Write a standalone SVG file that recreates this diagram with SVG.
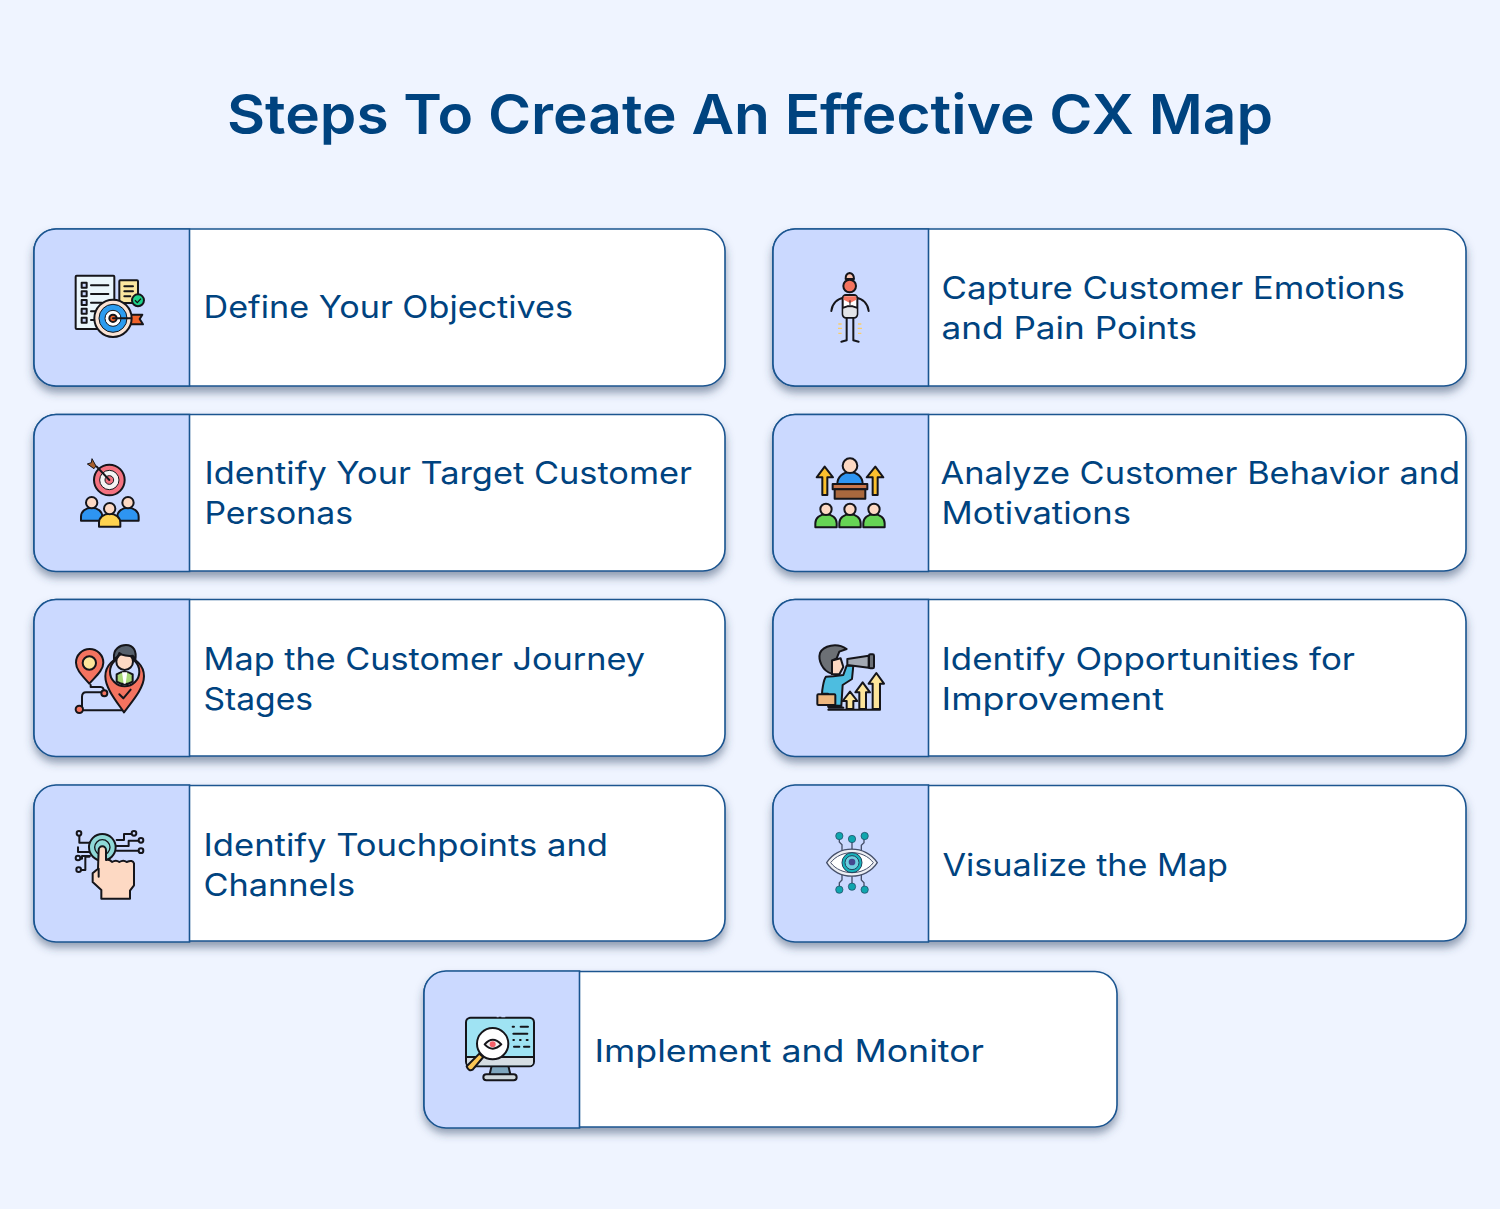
<svg xmlns="http://www.w3.org/2000/svg" width="1500" height="1209" viewBox="0 0 1500 1209">
<style>
.card{fill:#fff;stroke:#1a5590;stroke-width:1.6;filter:url(#sh)}
.panel{fill:#cbd9ff;stroke:#1a5590;stroke-width:1.6}
.t{font-family:"Inter","Liberation Sans",sans-serif;font-size:31px;font-weight:400;fill:#00437f}
.h{font-family:"Inter","Liberation Sans",sans-serif;font-size:55px;font-weight:600;fill:#00437f}
.k{stroke:#15151a;stroke-width:6;stroke-linecap:round;stroke-linejoin:round}
.n{fill:none}
.s{fill:#fdd9c3}
</style>
<defs>
<filter id="sh" x="-5%" y="-10%" width="110%" height="125%"><feDropShadow dx="0" dy="6" stdDeviation="4" flood-color="#334466" flood-opacity=".5"/></filter>
<path id="cardPanel" d="M155.5 0H22A22 22 0 0 0 0 22V135A22 22 0 0 0 22 157H155.5Z"/>
<g id="pers"><path class="k" d="M-32 36V24C-32 8-18 -3 0 -3S32 8 32 24V36Z"/><circle class="k s" cx="0" cy="-18" r="17"/></g>
</defs>
<rect width="1500" height="1209" fill="#eff4ff"/>
<text class="h" x="227" y="134" textLength="1046" lengthAdjust="spacingAndGlyphs">Steps To Create An Effective CX Map</text>

<g id="node-objectives">
<rect class="card" x="34" y="229" width="691" height="157" rx="22"/><use href="#cardPanel" class="panel" x="34" y="229"/>
<text class="t" x="203.5" y="318" textLength="369.5" lengthAdjust="spacingAndGlyphs">Define Your Objectives</text>
<g transform="translate(25 220) scale(.3333)">
<rect class="k" x="152" y="167" width="116" height="160" rx="3" fill="#eaf6fc"/>
<g fill="#cbd9ff"><rect class="k" x="170" y="188" width="15" height="15"/><rect class="k" x="170" y="214" width="15" height="15"/><rect class="k" x="170" y="240" width="15" height="15"/><rect class="k" x="170" y="266" width="15" height="15"/><rect class="k" x="170" y="293" width="15" height="15"/></g>
<path class="k n" d="M198 196H250M198 222H250M198 248H230M198 274H210M198 300H210"/>
<rect class="k" x="283" y="181" width="56" height="68" rx="3" fill="#fbe6a0"/>
<path class="k n" d="M298 199H324M298 214H324M298 229H316"/>
<circle class="k" cx="339" cy="241" r="18" fill="#1dd28a"/>
<path d="M330 241l7 7 11-12" fill="none" stroke="#111" stroke-width="4"/>
<path class="k" d="M314 284H352L344 297 354 313H316Z" fill="#f0622a"/>
<circle class="k" cx="264" cy="295" r="56" fill="#fbe3d4"/>
<circle cx="264" cy="295" r="42" fill="#2c9cf0" stroke="#15151a" stroke-width="3"/>
<circle cx="264" cy="295" r="24" fill="#fff" stroke="#15151a" stroke-width="3"/>
<circle class="k" cx="264" cy="295" r="11" fill="#f0622a"/>
<path class="k n" d="M264 295H318"/>
</g></g>

<g id="node-personas">
<rect class="card" x="34" y="414.5" width="691" height="156.500" rx="22"/><use href="#cardPanel" class="panel" x="34" y="414.5"/>
<text class="t" x="204.5" y="484" textLength="487.5" lengthAdjust="spacingAndGlyphs">Identify Your Target Customer</text>
<text class="t" x="204.5" y="524" textLength="148.500" lengthAdjust="spacingAndGlyphs">Personas</text>
<g transform="translate(60 450) scale(.3333)">
<circle class="k" cx="148" cy="90" r="46" fill="#f47280"/>
<circle cx="148" cy="90" r="29" fill="#f4f4f4" stroke="#15151a" stroke-width="3"/>
<circle cx="148" cy="90" r="13" fill="#f47280" stroke="#15151a" stroke-width="3"/>
<path class="k n" d="M148 90L110 50"/>
<path d="M108 48L96 26 94 38 82 42 102 56Z" fill="#a65f2c" stroke="#15151a" stroke-width="3"/>
<g transform="translate(95 176)" fill="#2e95f2"><use href="#pers"/></g>
<g transform="translate(204 176)" fill="#2e95f2"><use href="#pers"/></g>
<g transform="translate(149 194)" fill="#fed350"><use href="#pers"/></g>
</g></g>

<g id="node-journey">
<rect class="card" x="34" y="599.5" width="691" height="156.500" rx="22"/><use href="#cardPanel" class="panel" x="34" y="599.5"/>
<text class="t" x="203.5" y="670" textLength="441.5" lengthAdjust="spacingAndGlyphs">Map the Customer Journey</text>
<text class="t" x="203.5" y="710" textLength="109.5" lengthAdjust="spacingAndGlyphs">Stages</text>
<g transform="translate(60 635) scale(.3333)">
<path class="k n" d="M92 150V156H122Q132 156 132 172H78Q66 172 66 186V218M70 226H192"/>
<path class="k" d="M88 146C70 125 48 106 48 83A41 41 0 0 1 130 83C130 106 106 125 88 146Z" fill="#f4735f"/>
<circle class="k" cx="88" cy="84" r="20" fill="#fde59a"/>
<circle class="k" cx="133" cy="175" r="9" fill="#f4735f"/>
<circle class="k" cx="58" cy="223" r="11" fill="#f4735f"/>
<path class="k" d="M192 232C170 200 136 160 136 124A58 58 0 0 1 252 124C252 160 216 200 192 232Z" fill="#f4735f"/>
<circle class="k" cx="194" cy="110" r="44" fill="#cbd9ff"/>
<path class="k" d="M170 140V118Q194 102 218 118V140Q194 156 170 140Z" fill="#a8d878"/>
<path d="M186 112H202L197 146H191Z" fill="#fff"/>
<circle class="k s" cx="194" cy="80" r="25"/>
<path class="k" d="M162 72C158 40 182 30 198 30 222 30 230 50 226 74L218 62C206 64 186 62 178 54 176 62 170 68 162 72Z" fill="#56606b"/>
<path class="k n" d="M178 178L190 190 212 164"/>
</g></g>

<g id="node-touchpoints">
<rect class="card" x="34" y="785.5" width="691" height="155.500" rx="22"/><use href="#cardPanel" class="panel" x="34" y="785"/>
<text class="t" x="203.5" y="856" textLength="404.5" lengthAdjust="spacingAndGlyphs">Identify Touchpoints and</text>
<text class="t" x="203.5" y="896" textLength="151.500" lengthAdjust="spacingAndGlyphs">Channels</text>
<g transform="translate(60 820) scale(.3333)">
<path class="k n" d="M58 46V68H92M54 82V96H90M50 116H66V108H90M56 150H76V110H88M170 60H192V42H214M170 78H206V62H236M170 92H236"/>
<g fill="#cbd9ff"><circle class="k" cx="57" cy="40" r="7"/><circle class="k" cx="54" cy="114" r="7"/><circle class="k" cx="56" cy="149" r="7"/><circle class="k" cx="222" cy="40" r="7"/><circle class="k" cx="243" cy="61" r="7"/><circle class="k" cx="243" cy="92" r="7"/></g>
<circle class="k" cx="127" cy="82" r="40" fill="#8fd8d6"/>
<circle cx="127" cy="82" r="23" fill="#8fd8d6" stroke="#15151a" stroke-width="4"/>
<path class="k s" d="M116 90A11 11 0 0 1 138 90V120Q148 116 156 126 168 118 178 126 190 118 200 126 218 118 222 130V196L210 212V236H124V210L98 186V160L114 146Z"/>
<path class="k n" d="M116 146V170"/>
</g></g>

<g id="node-monitor">
<rect class="card" x="424" y="971.5" width="693" height="155.500" rx="22"/><use href="#cardPanel" class="panel" x="424" y="971"/>
<text class="t" x="594.5" y="1062" textLength="389.5" lengthAdjust="spacingAndGlyphs">Implement and Monitor</text>
<g transform="translate(450 1005) scale(.3333)">
<path class="k" d="M125 182H175L182 212H118Z" fill="#7fa6bd"/>
<rect class="k" x="100" y="208" width="100" height="18" rx="9" fill="#cfd8dc"/>
<rect class="k" x="48" y="38" width="204" height="146" rx="14" fill="#9fe3f3"/>
<path d="M51 156H249V170Q249 181 238 181H62Q51 181 51 170Z" fill="#d6dee3"/>
<path class="k n" d="M48 156H252M188 65H192M212 65H234M190 86H232M190 105H192M210 105H212M230 105H233M192 125H208M222 125H238"/>
<path d="M140 34H146M154 34H166" stroke="#cbd9ff" stroke-width="6"/>
<path class="k" d="M88 146L50 184Q56 200 68 194L100 156Z" fill="#fbc656"/>
<circle class="k" cx="128" cy="116" r="47" fill="#fff"/>
<path class="k" d="M104 118Q128 90 154 118 128 144 104 118Z" fill="#f2f2f2"/>
<circle cx="128" cy="118" r="9" fill="#f4606a"/>
</g></g>

<g id="node-emotions">
<rect class="card" x="773" y="229" width="693" height="157" rx="22"/><use href="#cardPanel" class="panel" x="773" y="229"/>
<text class="t" x="941.5" y="299" textLength="463.5" lengthAdjust="spacingAndGlyphs">Capture Customer Emotions</text>
<text class="t" x="941.5" y="339" textLength="255.500" lengthAdjust="spacingAndGlyphs">and Pain Points</text>
<g transform="translate(800 265) scale(.3333)">
<path class="k n" d="M94 138C96 116 112 100 132 98M206 138C204 116 188 100 168 98M140 158V226L124 230M160 158V226L176 230"/>
<rect class="k" x="128" y="90" width="44" height="68" rx="10" fill="#fff"/>
<path d="M131 94H169V104L150 114 131 104Z" fill="#f4735f"/>
<path d="M130 128H170V146Q170 156 160 156H140Q130 156 130 146Z" fill="#e2e4e8"/>
<path d="M150 106V120" stroke="#15151a" stroke-width="3"/>
<path class="k n" d="M130 128L142 124H158L170 128"/>
<circle class="k" cx="149" cy="63" r="19" fill="#f4735f"/>
<path class="k" d="M137 42Q136 26 149 24 162 26 162 42Z" fill="#fbc4b0"/>
<path d="M115 177H125M114 190H126M115 205H125M174 177H184M173 190H186M174 205H184" stroke="#fbcd6a" stroke-width="4"/>
</g></g>

<g id="node-behavior">
<rect class="card" x="773" y="414.5" width="693" height="156.500" rx="22"/><use href="#cardPanel" class="panel" x="773" y="414.5"/>
<text class="t" x="940.5" y="484" textLength="519.5" lengthAdjust="spacingAndGlyphs">Analyze Customer Behavior and</text>
<text class="t" x="941.5" y="524" textLength="189.5" lengthAdjust="spacingAndGlyphs">Motivations</text>
<g transform="translate(800 450) scale(.3333)">
<path class="k" d="M67 135V82H50L74 50 99 82H82V135Z" fill="#fcc02e"/>
<path class="k" d="M218 135V82H200L226 50 250 82H233V135Z" fill="#fcc02e"/>
<path class="k" d="M112 102C112 80 130 66 150 66S188 80 188 102Z" fill="#2e95f2"/>
<circle class="k s" cx="150" cy="47" r="22"/>
<rect class="k" x="98" y="102" width="104" height="16" fill="#c9764a"/>
<rect class="k" x="104" y="118" width="92" height="28" fill="#a9683e"/>
<g transform="translate(78 196)" fill="#66d455"><use href="#pers"/></g>
<g transform="translate(150 196)" fill="#66d455"><use href="#pers"/></g>
<g transform="translate(222 196)" fill="#66d455"><use href="#pers"/></g>
</g></g>

<g id="node-opportunities">
<rect class="card" x="773" y="599.5" width="693" height="156.500" rx="22"/><use href="#cardPanel" class="panel" x="773" y="599.5"/>
<text class="t" x="941.5" y="670" textLength="413.5" lengthAdjust="spacingAndGlyphs">Identify Opportunities for</text>
<text class="t" x="941.5" y="710" textLength="222.500" lengthAdjust="spacingAndGlyphs">Improvement</text>
<g transform="translate(800 635) scale(.3333)">
<path class="k n" d="M85 224H240"/>
<path class="k" d="M140 222V198H128L150 170 172 198H160V222Z" fill="#fde59a"/>
<path class="k" d="M178 222V172H166L188 142 210 172H198V222Z" fill="#fde59a"/>
<path class="k" d="M218 222V146H206L229 114 252 146H240V222Z" fill="#fde59a"/>
<path class="k" d="M78 125C70 135 66 170 66 176H84L86 212H124L128 150 156 132 160 92 140 92 130 120 100 124Z" fill="#4dbde0"/>
<path class="k" d="M84 212H110L130 218H86Z" fill="#c9764a"/>
<rect class="k" x="52" y="178" width="54" height="32" rx="3" fill="#eeb77f"/>
<path class="k s" d="M90 78L122 70 130 96 118 118 96 118Z"/>
<path class="k" d="M96 116C66 108 54 74 60 54 70 32 110 22 140 42L118 50 110 70 96 76Z" fill="#6c7075"/>
<path class="k" d="M142 72L206 62V98L142 90Z" fill="#a3a9b3"/>
<rect class="k" x="207" y="58" width="15" height="42" rx="4" fill="#6c7075"/>
</g></g>

<g id="node-visualize">
<rect class="card" x="773" y="785.5" width="693" height="155.500" rx="22"/><use href="#cardPanel" class="panel" x="773" y="785"/>
<text class="t" x="942.5" y="876" textLength="285.5" lengthAdjust="spacingAndGlyphs">Visualize the Map</text>
<g transform="translate(800 820) scale(.3333)">
<g fill="none" stroke="#46506a" stroke-width="4"><path d="M118 50V66L126 74V92M156 60V90M192 50V68L184 76V92M118 206V188L126 180V164M156 198V166M192 206V188L184 180V164"/></g>
<path d="M80 128C112 74 198 74 232 128 198 182 112 182 80 128Z" fill="#eceef3" stroke="#46506a" stroke-width="4"/>
<path d="M92 128C122 88 190 88 220 128 190 168 122 168 92 128Z" fill="#fff" stroke="#46506a" stroke-width="3"/>
<circle cx="156" cy="128" r="30" fill="#16b3bb" stroke="#22405a" stroke-width="3"/>
<circle cx="156" cy="128" r="21" fill="#6ecfe0" stroke="#22405a" stroke-width="3"/>
<circle cx="156" cy="126" r="10" fill="#44478f"/>
<g fill="#0fa6ae" stroke="#22405a" stroke-width="2"><circle cx="118" cy="48" r="11"/><circle cx="156" cy="57" r="11"/><circle cx="194" cy="48" r="11"/><circle cx="118" cy="209" r="11"/><circle cx="156" cy="200" r="11"/><circle cx="194" cy="209" r="11"/></g>
</g></g>
</svg>
